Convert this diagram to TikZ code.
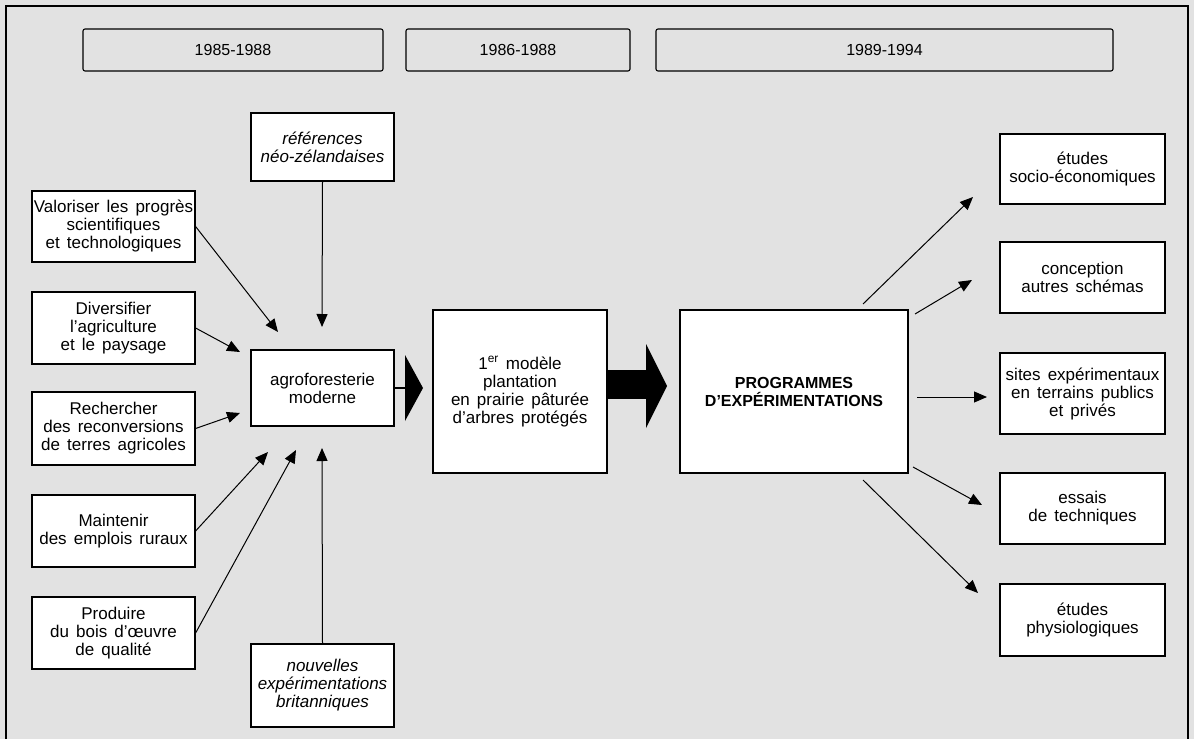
\documentclass[tikz,border=0pt]{standalone}
\usepackage{fontspec}
\setmainfont{Liberation Sans}[WordSpace=1.5]
\usetikzlibrary{arrows.meta}
\definecolor{bg}{RGB}{226,226,226}
\begin{document}
\begin{tikzpicture}[x=1pt,y=-1pt,
  txt/.style={font=\fontsize{17}{18}\selectfont},
  box/.style={txt, draw, fill=white, line width=1.2pt, align=center, inner sep=0pt},
  bar/.style={draw, line width=1.1pt, rounded corners=2pt, inner sep=0pt, minimum height=42, font=\fontsize{16}{18}\selectfont},
  arr/.style={line width=1pt, -{Triangle[length=13pt,width=11pt]}},
  fat/.style={fill=black, draw=none}]
\fill[bg] (0,0) rectangle (1194,739);
\useasboundingbox (0,0) rectangle (1194,739);
\draw[line width=1.2pt] (6,739) -- (6,6) -- (1188,6) -- (1188,739);

% period bars
\node[bar, minimum width=300] (b1) at (233,50) {1985-1988};
\node[bar, minimum width=224] (b2) at (518,50) {1986-1988};
\node[bar, minimum width=457] (b3) at (884.5,50) {1989-1994};

% left column
\node[box, minimum width=163, minimum height=71] (val) at (113.5,226.5) {Valoriser les progrès\\scientifiques\\et technologiques};
\node[box, minimum width=163, minimum height=72] (div) at (113.5,328) {Diversifier\\l'agriculture\\et le paysage};
\node[box, minimum width=163, minimum height=73] (rec) at (113.5,428.5) {Rechercher\\des reconversions\\de terres agricoles};
\node[box, minimum width=163, minimum height=72] (mai) at (113.5,531) {Maintenir\\des emplois ruraux};
\node[box, minimum width=163, minimum height=72] (pro) at (113.5,633) {Produire\\du bois d'\oe uvre\\de qualité};

% middle column
\node[box, minimum width=143, minimum height=68, font=\fontsize{17}{18}\selectfont\itshape] (ref) at (322.5,147) {références\\néo-zélandaises};
\node[box, minimum width=143, minimum height=76] (agro) at (322.5,388) {agroforesterie\\moderne};
\node[box, minimum width=143, minimum height=83, font=\fontsize{17}{18}\selectfont\itshape] (nouv) at (322.5,685.5) {nouvelles\\expérimentations\\britanniques};

\node[box, minimum width=174, minimum height=163] (mod) at (520,391.5) {1\textsuperscript{er} modèle\\plantation\\en prairie pâturée\\d'arbres protégés};
\node[box, minimum width=228, minimum height=163, font=\fontsize{16}{18}\selectfont\bfseries] (prog) at (794,391.5) {PROGRAMMES\\D'EXPÉRIMENTATIONS};

% right column
\node[box, minimum width=165, minimum height=70] (soc) at (1082.5,169) {études\\socio-économiques};
\node[box, minimum width=165, minimum height=71] (con) at (1082.5,277.5) {conception\\autres schémas};
\node[box, minimum width=165, minimum height=81] (sit) at (1082.5,393.5) {sites expérimentaux\\en terrains publics\\et privés};
\node[box, minimum width=165, minimum height=71] (ess) at (1082.5,508.5) {essais\\de techniques};
\node[box, minimum width=165, minimum height=72] (phy) at (1082.5,620) {études\\physiologiques};

% arrow ends
\coordinate (tref) at (322,327);
\coordinate (tval) at (278,332);
\coordinate (tdiv) at (240,352);
\coordinate (trec) at (240,413);
\coordinate (tmai) at (268,452);
\coordinate (tpro) at (296,450);
\coordinate (tnouv) at (322,448);

\draw[arr] (ref.south) -- (tref);
\draw[arr] (val.east) -- (tval);
\draw[arr] (div.east) -- (tdiv);
\draw[arr] (rec.east) -- (trec);
\draw[arr] (mai.east) -- (tmai);
\draw[arr] (pro.east) -- (tpro);
\draw[arr] (nouv.north) -- (tnouv);

\coordinate (s1) at (863,304); \coordinate (e1) at (973,197);
\coordinate (s2) at (915,314); \coordinate (e2) at (972,280);
\coordinate (s3) at (917,397); \coordinate (e3) at (987,397);
\coordinate (s4) at (913,467); \coordinate (e4) at (982,505);
\coordinate (s5) at (863,480); \coordinate (e5) at (978,593);
\draw[arr] (s1) -- (e1);
\draw[arr] (s2) -- (e2);
\draw[arr] (s3) -- (e3);
\draw[arr] (s4) -- (e4);
\draw[arr] (s5) -- (e5);

% fat arrows
\coordinate (f1) at (405,388);
\draw[line width=1.2pt] (agro.east) -- (f1);
\fill[fat] (405,355) -- (423,388) -- (405,421) -- cycle;
\fill[fat] (607,370) rectangle (646,399);
\fill[fat] (646,344) -- (667,386) -- (646,428) -- cycle;
\end{tikzpicture}
\end{document}
